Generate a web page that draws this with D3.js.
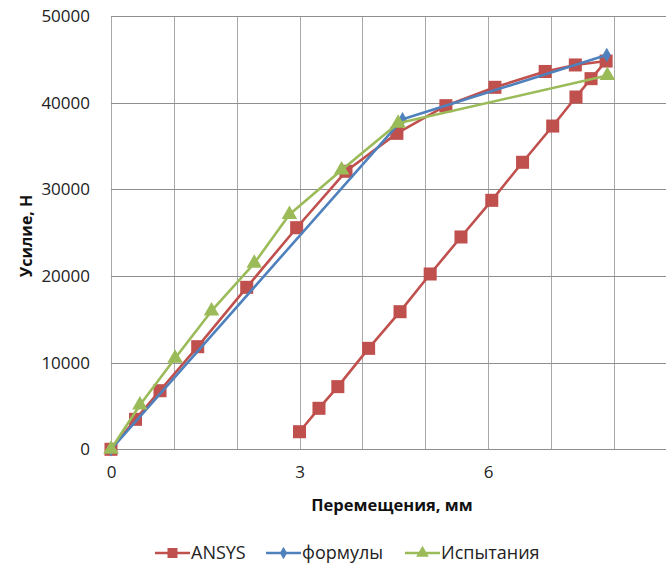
<!DOCTYPE html>
<html>
<head>
<meta charset="utf-8">
<script src="https://cdn.jsdelivr.net/npm/d3@7"></script>
<style>
  html, body { margin: 0; padding: 0; background: #fff; overflow: hidden; }
  svg { display: block; }
</style>
</head>
<body>
<svg id="chart" width="666" height="567"></svg>
<script>
// ---- data ----
const ansysX = [0, 0.39, 0.78, 1.38, 2.16, 2.955, 3.74, 4.55, 5.33, 6.11, 6.91, 7.39, 7.88,
                7.64, 7.40, 7.03, 6.55, 6.06, 5.57, 5.08, 4.60, 4.10, 3.61, 3.31, 3.00];
const ansysY = [0, 3460, 6760, 11840, 18690, 25570, 32080, 36460, 39650, 41770, 43600, 44350, 44800,
                42770, 40650, 37300, 33120, 28730, 24500, 20230, 15880, 11650, 7230, 4730, 2030];
const formX = [0, 4.64, 7.89];
const formY = [0, 38080, 45500];
const testX = [0, 0.46, 1.02, 1.60, 2.28, 2.84, 3.67, 4.57, 7.90];
const testY = [0, 5110, 10500, 15960, 21460, 27100, 32230, 37620, 43130];
const seriesNames = ["ANSYS", "формулы", "Испытания"];
const xTickLabels = [0, 3, 6];
const yTickLabels = [0, 10000, 20000, 30000, 40000, 50000];
const xGridValues = [0, 1, 2, 3, 4, 5, 6, 7, 8, 9];
const xTitle = "Перемещения, мм";
const yTitle = "Усилие, Н";

// ---- layout ----
const svg = d3.select("#chart");
const pLeft = 111, pTop = 16, pRight = 676.5, pBottom = 449.3;
const x = d3.scaleLinear().domain([0, 9]).range([pLeft, pRight]);
const y = d3.scaleLinear().domain([0, 50000]).range([pBottom, pTop]);
const colors = ["#C0504D", "#4F81BD", "#9BBB59"];
const font = "'Open Sans', 'Liberation Sans', sans-serif";

// grid
svg.append("g").selectAll("line").data(xGridValues).join("line")
  .attr("x1", d => Math.round(x(d)) + 0.5).attr("x2", d => Math.round(x(d)) + 0.5)
  .attr("y1", pTop).attr("y2", pBottom)
  .attr("stroke", "#a8a8a8").attr("stroke-width", 1);
svg.append("g").selectAll("line").data(yTickLabels).join("line")
  .attr("x1", pLeft).attr("x2", pRight)
  .attr("y1", d => Math.round(y(d)) + 0.5).attr("y2", d => Math.round(y(d)) + 0.5)
  .attr("stroke", "#8e8e8e").attr("stroke-width", 1);

// axes labels via d3 axes
const yAxis = d3.axisLeft(y).tickValues(yTickLabels).tickSize(0).tickPadding(21).tickFormat(d3.format("d"));
const gy = svg.append("g").attr("transform", `translate(${pLeft},0)`).call(yAxis);
gy.select(".domain").remove();
gy.selectAll("text").attr("font-family", font).attr("font-size", 17).attr("fill", "#222");

const xAxis = d3.axisBottom(x).tickValues(xTickLabels).tickSize(0).tickPadding(17).tickFormat(d3.format("d"));
const gx = svg.append("g").attr("transform", `translate(0,${pBottom})`).call(xAxis);
gx.select(".domain").remove();
gx.selectAll("text").attr("font-family", font).attr("font-size", 17).attr("fill", "#222");

// titles
svg.append("text").attr("x", 392).attr("y", 511).attr("text-anchor", "middle")
  .attr("font-family", font).attr("font-weight", "bold").attr("font-size", 16.5).attr("fill", "#111")
  .text(xTitle);
svg.append("text").attr("transform", "translate(32,236) rotate(-90)").attr("text-anchor", "middle")
  .attr("font-family", font).attr("font-weight", "bold").attr("font-size", 16).attr("fill", "#111")
  .text(yTitle);

// series
const series = [
  { xs: ansysX, ys: ansysY, color: colors[0], shape: "square" },
  { xs: formX, ys: formY, color: colors[1], shape: "diamond" },
  { xs: testX, ys: testY, color: colors[2], shape: "triangle" }
];
const symbolType = { square: d3.symbolSquare, diamond: d3.symbolDiamond, triangle: d3.symbolTriangle };
const symbolSize = { square: 170, diamond: 60, triangle: 105 };
const line = d3.line().x(d => x(d[0])).y(d => y(d[1]));

series.forEach(s => {
  const pts = s.xs.map((v, i) => [v, s.ys[i]]);
  svg.append("path").datum(pts).attr("d", line)
    .attr("fill", "none").attr("stroke", s.color).attr("stroke-width", 2.6)
    .attr("stroke-linejoin", "round");
  svg.append("g").selectAll("path").data(pts).join("path")
    .attr("transform", d => `translate(${x(d[0])},${y(d[1])})`)
    .attr("d", d3.symbol().type(symbolType[s.shape]).size(symbolSize[s.shape]))
    .attr("fill", s.color);
});

// legend
const legendItems = [
  { name: seriesNames[0], x0: 155, color: colors[0], shape: "square", tx: 191 },
  { name: seriesNames[1], x0: 266, color: colors[1], shape: "diamond", tx: 302 },
  { name: seriesNames[2], x0: 405, color: colors[2], shape: "triangle", tx: 441 }
];
const ly = 553;
const lg = svg.append("g");
legendItems.forEach(it => {
  lg.append("line").attr("x1", it.x0).attr("x2", it.x0 + 35).attr("y1", ly).attr("y2", ly)
    .attr("stroke", it.color).attr("stroke-width", 2.6);
  lg.append("path").attr("transform", `translate(${it.x0 + 17.5},${ly})`)
    .attr("d", d3.symbol().type(symbolType[it.shape]).size(it.shape === "square" ? 100 : it.shape === "diamond" ? 45 : 70))
    .attr("fill", it.color);
  lg.append("text").attr("x", it.tx).attr("y", ly + 6).attr("font-family", font).attr("font-size", 18)
    .attr("fill", "#222").text(it.name);
});
</script>
</body>
</html>
